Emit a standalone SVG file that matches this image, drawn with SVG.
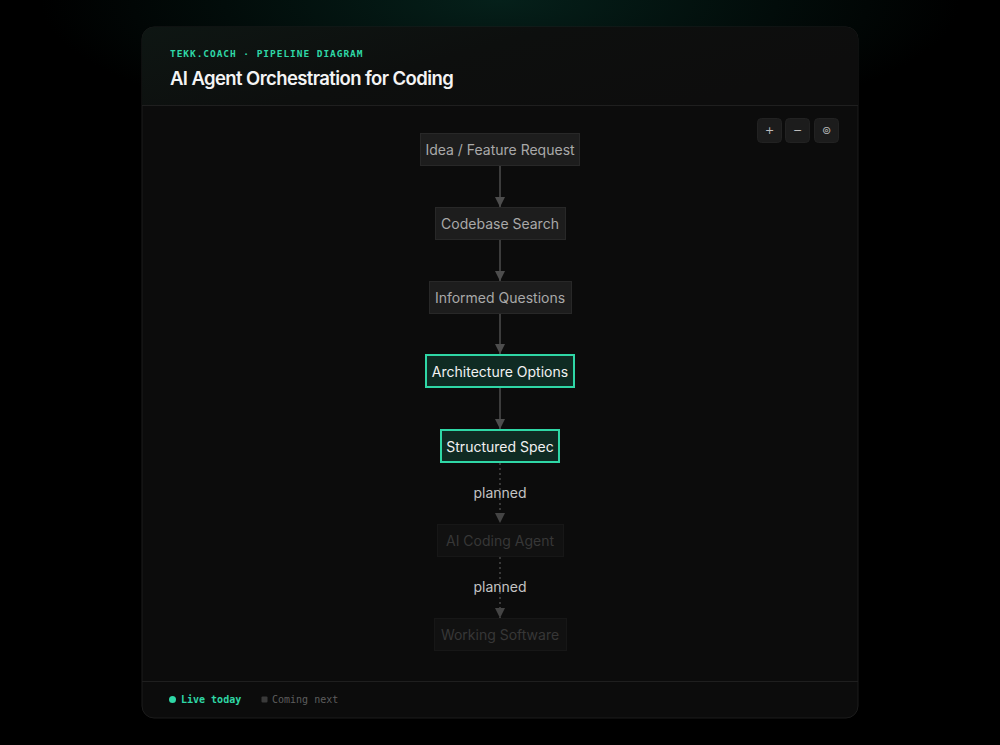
<svg xmlns="http://www.w3.org/2000/svg" width="1000" height="745" viewBox="0 0 1000 745">
<defs>
<radialGradient id="glow" cx="500" cy="0" r="460" gradientUnits="userSpaceOnUse" gradientTransform="scale(1,0.3)">
<stop offset="0" stop-color="#05201a"/>
<stop offset="0.6" stop-color="#020c0a"/>
<stop offset="1" stop-color="#000000"/>
</radialGradient>
<linearGradient id="hdr" x1="0" y1="0" x2="1" y2="0.4">
<stop offset="0" stop-color="#0e1613"/>
<stop offset="0.5" stop-color="#0d0f0e"/>
<stop offset="1" stop-color="#0d0d0d"/>
</linearGradient>
<marker id="ah" viewBox="0 0 10 10" refX="10" refY="5" markerWidth="10" markerHeight="10" markerUnits="userSpaceOnUse" orient="auto">
<path d="M0,0 L10,5 L0,10 z" fill="#4d4d4d"/>
</marker>
<marker id="ahf" viewBox="0 0 10 10" refX="10" refY="5" markerWidth="10" markerHeight="10" markerUnits="userSpaceOnUse" orient="auto">
<path d="M0,0 L10,5 L0,10 z" fill="#444444"/>
</marker>
<clipPath id="cardclip"><rect x="142" y="27" width="716" height="691" rx="12"/></clipPath>
</defs>
<style>
.node rect{fill:#1d1d1d;stroke:#282828;stroke-width:1}
.node text{font-family:Inter,"Noto Sans",sans-serif;font-size:14px;fill:#a9a9a9;text-anchor:middle}
.hl rect{fill:#0f2b23;stroke:#2fd7a6;stroke-width:2}
.hl text{fill:#f2f2f2}
.fd rect{fill:#111111;stroke:#171717}
.fd text{fill:#373737}
.edge{stroke:#4d4d4d;stroke-width:1.5;fill:none}
.dot{stroke:#474747;stroke-width:1.5;stroke-dasharray:2 3;fill:none}
.lbl{font-family:Inter,"Noto Sans",sans-serif;font-size:14px;fill:#c4c4c4;text-anchor:middle}
.mono{font-family:"DejaVu Sans Mono","Liberation Mono",monospace;font-weight:bold}
.mono2{font-family:"DejaVu Sans Mono","Liberation Mono",monospace}
.btn rect{fill:#1c1c1c;stroke:#222}
.btn text{font-family:"DejaVu Sans",sans-serif;font-size:11px;fill:#bdbdbd;text-anchor:middle}
</style>
<rect width="1000" height="745" fill="#000"/>
<rect width="1000" height="200" fill="url(#glow)"/>
<g id="card">
<rect x="142" y="27" width="716" height="691" rx="12" fill="#0c0c0c" stroke="#1c1c1c"/>
<g clip-path="url(#cardclip)">
<rect x="142" y="27" width="716" height="78" fill="url(#hdr)"/>
</g>
<line x1="142" y1="105.5" x2="858" y2="105.5" stroke="#1f1f1f"/>
<line x1="142" y1="681.5" x2="858" y2="681.5" stroke="#1f1f1f"/>
<text class="mono" x="170" y="57" font-size="9.5" letter-spacing="0.95" fill="#2fd7a6">TEKK.COACH · PIPELINE DIAGRAM</text>
<text x="170" y="85" font-family="Inter,'Noto Sans',sans-serif" font-size="18.5" font-weight="600" fill="#f4f4f4" letter-spacing="-0.6">AI Agent Orchestration for Coding</text>
</g>
<g id="controls">
<g class="btn"><rect x="757.5" y="118.5" width="24" height="24" rx="4"/><text x="769.5" y="134">+</text></g>
<g class="btn"><rect x="785.5" y="118.5" width="24" height="24" rx="4"/><text x="797.5" y="134">−</text></g>
<g class="btn"><rect x="814.5" y="118.5" width="24" height="24" rx="4"/><text x="826.5" y="134" font-size="9">⊚</text></g>
</g>
<g id="connectors">
<line class="edge" x1="500" y1="165" x2="500" y2="207" marker-end="url(#ah)"/>
<line class="edge" x1="500" y1="239" x2="500" y2="281" marker-end="url(#ah)"/>
<line class="edge" x1="500" y1="313" x2="500" y2="354" marker-end="url(#ah)"/>
<line class="edge" x1="500" y1="387" x2="500" y2="429" marker-end="url(#ah)"/>
<line class="dot" x1="500" y1="463" x2="500" y2="523" marker-end="url(#ahf)"/>
<text class="lbl" x="500" y="498">planned</text>
<line class="dot" x1="500" y1="557" x2="500" y2="618" marker-end="url(#ahf)"/>
<text class="lbl" x="500" y="592">planned</text>
</g>
<g id="n1" class="node"><rect x="420.5" y="133.5" width="159" height="32"/><text x="500" y="154.5">Idea / Feature Request</text></g>
<g id="n2" class="node"><rect x="435.5" y="207.5" width="130" height="32"/><text x="500" y="228.5">Codebase Search</text></g>
<g id="n3" class="node"><rect x="429.5" y="281.5" width="142" height="32"/><text x="500" y="302.5">Informed Questions</text></g>
<g id="n4" class="node hl"><rect x="426" y="355" width="148" height="32"/><text x="500" y="376.5">Architecture Options</text></g>
<g id="n5" class="node hl"><rect x="441" y="430" width="118" height="32"/><text x="500" y="451.5">Structured Spec</text></g>
<g id="n6" class="node fd"><rect x="437.5" y="524.5" width="126" height="32"/><text x="500" y="545.5">AI Coding Agent</text></g>
<g id="n7" class="node fd"><rect x="434.5" y="618.5" width="132" height="32"/><text x="500" y="639.5">Working Software</text></g>
<g id="legend">
<circle cx="172.5" cy="699.5" r="3.5" fill="#2fd7a6"/>
<text class="mono" x="181" y="703" font-size="10" fill="#2fd7a6">Live today</text>
<rect x="261.5" y="696.5" width="6" height="6" rx="1" fill="#3a3a3a"/>
<text class="mono2" x="272" y="703" font-size="10" fill="#5e5e5e">Coming next</text>
</g>
</svg>
